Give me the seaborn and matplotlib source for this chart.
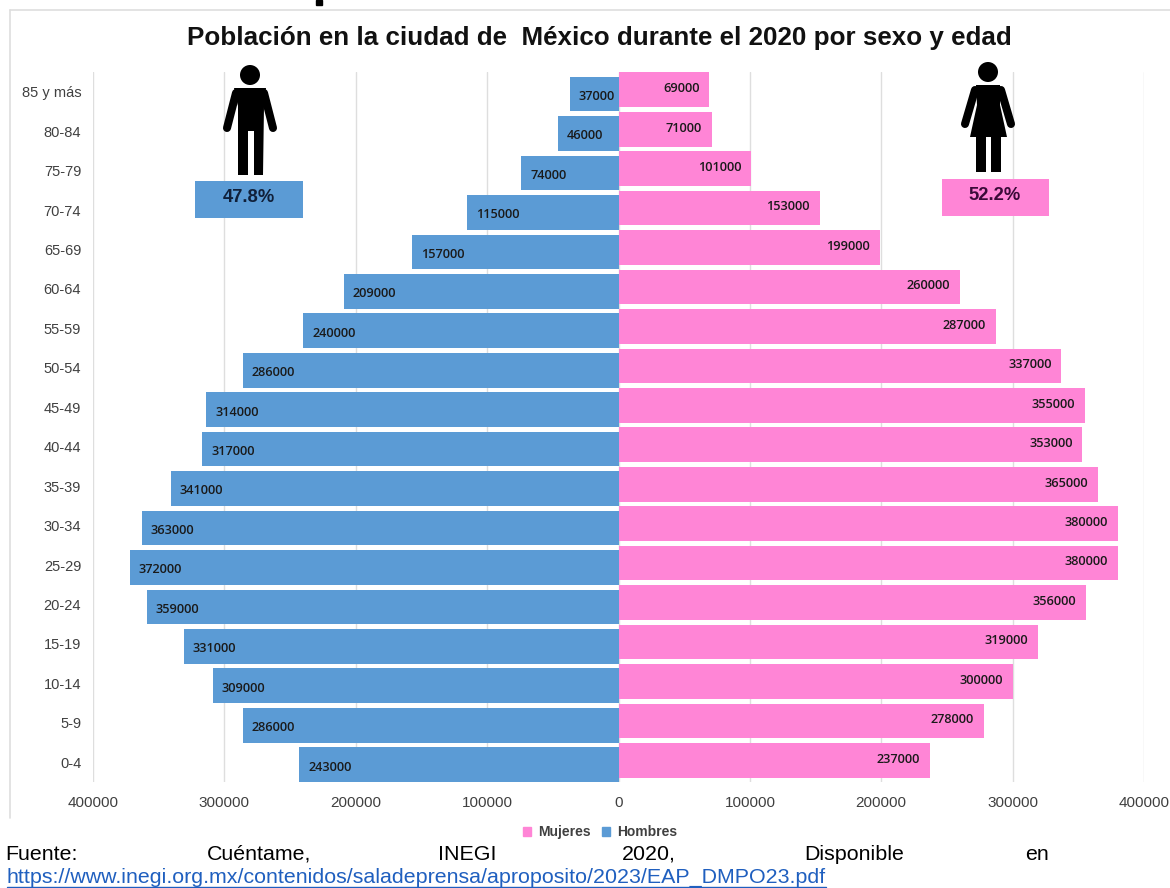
import matplotlib
matplotlib.use("Agg")
import matplotlib.pyplot as plt
from matplotlib.patches import Polygon, Circle, Rectangle, Patch
from matplotlib.ticker import FuncFormatter
from matplotlib.lines import Line2D
import pandas as pd
import seaborn as sns

edades = ["85 y más", "80-84", "75-79", "70-74", "65-69", "60-64", "55-59", "50-54", "45-49",
          "40-44", "35-39", "30-34", "25-29", "20-24", "15-19", "10-14", "5-9", "0-4"]
hombres = [37000, 46000, 74000, 115000, 157000, 209000, 240000, 286000, 314000,
           317000, 341000, 363000, 372000, 359000, 331000, 309000, 286000, 243000]
mujeres = [69000, 71000, 101000, 153000, 199000, 260000, 287000, 337000, 355000,
           353000, 365000, 380000, 380000, 356000, 319000, 300000, 278000, 237000]
ticks = [-400000, -300000, -200000, -100000, 0, 100000, 200000, 300000, 400000]
AZUL = "#5B9BD5"
ROSA = "#FF85D6"
W, H = 1170, 888

sns.set_theme(style="white")
plt.rcParams["font.family"] = ["Liberation Sans", "DejaVu Sans"]

df = pd.DataFrame({
    "edad": edades * 2,
    "valor": [-v for v in hombres] + mujeres,
    "sexo": ["Hombres"] * len(hombres) + ["Mujeres"] * len(mujeres),
})

fig = plt.figure(figsize=(W / 100, H / 100), dpi=100, facecolor="white")
ax = fig.add_axes([93 / W, 1 - 782 / H, (1144 - 93) / W, (782 - 72) / H])
sns.barplot(data=df, y="edad", x="valor", hue="sexo", hue_order=["Hombres", "Mujeres"],
            order=edades, dodge=False, palette={"Hombres": AZUL, "Mujeres": ROSA},
            saturation=1, width=0.88, legend=False, ax=ax, zorder=3, linewidth=0)
ax.set_xlim(-400000, 400000)
ax.set_ylim(len(edades) - 0.5, -0.5)
ax.set_xlabel("")
ax.set_ylabel("")
ax.set_xticks(ticks)
ax.xaxis.set_major_formatter(FuncFormatter(lambda v, _: f"{abs(int(v))}"))
ax.grid(axis="x", color="#DEDEDE", lw=1.0, zorder=0)
ax.set_axisbelow(True)
sns.despine(ax=ax, left=True, bottom=True, top=True, right=True)
ax.tick_params(axis="x", length=0, pad=10, labelsize=11, labelcolor="#404040")
ax.tick_params(axis="y", length=0, pad=8.5, labelsize=10.5, labelcolor="#404040")

# the two halves of the pyramid sit very slightly out of line in the source
for cont, dy in zip(ax.containers, (0.06, -0.05)):
    for p in cont:
        p.set_y(p.get_y() + dy)

lab = dict(family="Open Sans", fontsize=9.2, color="#1a1a1a", va="center", zorder=5,
           textcoords="offset points", fontweight="semibold")
for i, v in enumerate(hombres):
    ax.annotate(f"{v}", (-v, i + 0.12), xytext=(6.5, 0), ha="left", **lab)
for i, v in enumerate(mujeres):
    ax.annotate(f"{v}", (v, i - 0.08), xytext=(-7, 0), ha="right", **lab)

# pixel-space overlay: frame, pictograms, notes
ov = fig.add_axes([0, 0, 1, 1], facecolor="none")
ov.set_xlim(0, W)
ov.set_ylim(H, 0)
ov.axis("off")
ov.add_line(Line2D([10, W], [10, 10], color="#DEDEDE", lw=1.2))
ov.add_line(Line2D([10, 10], [10, 818], color="#DEDEDE", lw=1.2))
ov.add_patch(Rectangle((316, 0), 6, 5, color="black"))

ov.text(599, 38, "Población en la ciudad de  México durante el 2020 por sexo y edad",
        ha="center", va="center", fontsize=18.75, fontweight="bold", color="#111111")

arm = dict(color="black", lw=5.8, solid_capstyle="round")

# man
ov.add_patch(Circle((250, 75), 10, color="black", lw=0))
ov.add_patch(Polygon([(234, 88), (266, 88), (264, 106), (263, 175), (254, 175), (254, 131),
                      (248, 131), (248, 175), (238, 175), (238, 106)],
                     closed=True, color="black", lw=0))
ov.add_line(Line2D([236, 227], [93, 128], **arm))
ov.add_line(Line2D([264, 273], [93, 128], **arm))
ov.add_patch(Rectangle((195, 181), 108, 37, color=AZUL, lw=0))
ov.text(249, 197, "47.8%", ha="center", va="center", fontsize=13.2, fontweight="bold", color="#10203a")

# woman
ov.add_patch(Circle((988, 72), 10, color="black", lw=0))
ov.add_patch(Polygon([(976, 85), (1000, 85), (1000, 105), (1007, 137), (1001, 137), (1001, 172),
                      (991, 172), (991, 137), (986, 137), (986, 172), (976, 172), (976, 137),
                      (970, 137), (977, 105)],
                     closed=True, color="black", lw=0))
ov.add_line(Line2D([975, 965], [90, 124], **arm))
ov.add_line(Line2D([1001, 1011], [90, 124], **arm))
ov.add_patch(Rectangle((942, 179), 107, 37, color=ROSA, lw=0))
ov.text(995, 195, "52.2%", ha="center", va="center", fontsize=13.2, fontweight="bold", color="#3a0a38")

# legend
leg = ov.legend(handles=[Patch(color=ROSA, label="Mujeres"), Patch(color=AZUL, label="Hombres")],
                loc="center", bbox_to_anchor=(600, 832), bbox_transform=ov.transData, ncol=2,
                frameon=False, handlelength=0.6, handleheight=0.6, handletextpad=0.5,
                columnspacing=0.8, prop={"size": 10, "weight": "bold"})
for t in leg.get_texts():
    t.set_color("#404040")

# source note, spaced out as justified text
for x, word in zip([5, 207, 438, 622, 804, 1025],
                   ["Fuente:", "Cuéntame,", "INEGI", "2020,", "Disponible", "en"]):
    ov.text(x, 854, word, ha="left", va="center", fontsize=15.4, color="black")
url = "https://www.inegi.org.mx/contenidos/saladeprensa/aproposito/2023/EAP_DMPO23.pdf"
ov.text(7, 877, url, ha="left", va="center", fontsize=15.4, color="#1F5FBF")
ov.add_line(Line2D([7, 826], [887, 887], color="#1F5FBF", lw=1))

fig.savefig("out.png", dpi=100, facecolor="white")
